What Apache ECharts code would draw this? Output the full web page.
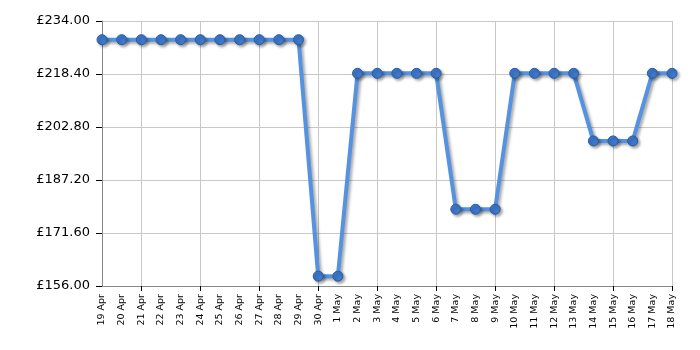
<!DOCTYPE html>
<html><head><meta charset="utf-8">
<script src="https://cdn.jsdelivr.net/npm/echarts@6/dist/echarts.min.js"></script>
<style>html,body{margin:0;padding:0;background:#fff}#c{width:700px;height:350px}</style>
</head><body><div id="c"></div>
<script>
const categories = ['19 Apr','20 Apr','21 Apr','22 Apr','23 Apr','24 Apr','25 Apr','26 Apr','27 Apr','28 Apr','29 Apr','30 Apr','1 May','2 May','3 May','4 May','5 May','6 May','7 May','8 May','9 May','10 May','11 May','12 May','13 May','14 May','15 May','16 May','17 May','18 May'];
const prices = [228.5,228.5,228.5,228.5,228.5,228.5,228.5,228.5,228.5,228.5,228.5,158.9,158.9,218.6,218.6,218.6,218.6,218.6,178.6,178.6,178.6,218.6,218.6,218.6,218.6,198.7,198.7,198.7,218.6,218.6];
const yMin = 156, yMax = 234, yStep = 15.6;

const chart = echarts.init(document.getElementById('c'));
const every3 = (i) => (i - 2) % 3 === 0;
chart.setOption({
  animation: false,
  grid: {left: 102, right: 28, top: 21, bottom: 64, containLabel: false},
  xAxis: {
    type: 'category', data: categories, boundaryGap: false,
    axisLine: {lineStyle: {color: '#888', width: 1}},
    axisTick: {show: true, interval: every3, length: 5, lineStyle: {color: '#000'}},
    axisLabel: {interval: 0, rotate: 90, fontFamily: 'DejaVu Sans', fontSize: 9.5, color: '#000', margin: 8},
    splitLine: {show: true, interval: every3, lineStyle: {color: '#c8c8c8', width: 1}}
  },
  yAxis: {
    type: 'value', min: yMin, max: yMax, interval: yStep,
    axisLine: {show: true, lineStyle: {color: '#888'}},
    axisTick: {show: true, length: 6, lineStyle: {color: '#000'}},
    axisLabel: {fontFamily: 'DejaVu Sans', fontSize: 13, color: '#000', margin: 12,
      formatter: v => '£' + v.toFixed(2)},
    splitLine: {lineStyle: {color: '#c8c8c8', width: 1}}
  },
  series: [{
    type: 'line', data: prices, symbol: 'circle', symbolSize: 10,
    lineStyle: {color: '#5592e0', width: 4, shadowColor: 'rgba(0,0,0,0.35)', shadowBlur: 3, shadowOffsetX: 2, shadowOffsetY: 2},
    itemStyle: {color: '#3d78cc', borderColor: '#2a5c9e', borderWidth: 1, shadowColor: 'rgba(0,0,0,0.35)', shadowBlur: 3, shadowOffsetX: 2, shadowOffsetY: 2}
  }]
});
</script></body></html>
